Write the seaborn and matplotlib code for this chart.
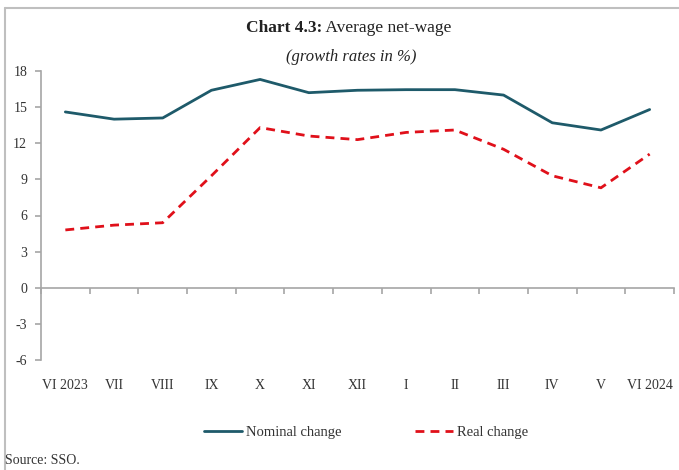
import matplotlib
matplotlib.use("Agg")
import matplotlib.pyplot as plt
from matplotlib.lines import Line2D
from matplotlib.ticker import FixedLocator, NullFormatter
import seaborn as sns
import pandas as pd
import numpy as np

# Monthly labels, June 2023 - June 2024
months = ["VI 2023", "VII", "VIII", "IX", "X", "XI", "XII",
          "I", "II", "III", "IV", "V", "VI 2024"]
# Year-on-year growth of the average net wage, %
nominal = [14.6, 14.0, 14.1, 16.4, 17.3, 16.2, 16.4, 16.45, 16.45, 16.0, 13.7, 13.1, 14.8]
real = [4.8, 5.2, 5.4, 9.3, 13.3, 12.6, 12.3, 12.9, 13.1, 11.5, 9.3, 8.3, 11.1]
series_names = ["Nominal change", "Real change"]
y_ticks = [-6, -3, 0, 3, 6, 9, 12, 15, 18]

sns.set_theme(style="white")
plt.rcParams["font.family"] = ["Liberation Serif", "DejaVu Serif"]

df = pd.DataFrame({
    "month": list(range(len(months))) * 2,
    "value": nominal + real,
    "series": [series_names[0]] * len(months) + [series_names[1]] * len(months),
})

fig = plt.figure(figsize=(6.79, 4.70), dpi=100)
ax = fig.add_axes([41 / 679, 1 - 360 / 470, 633 / 679, 289 / 470])

palette = {series_names[0]: "#1E5A6A", series_names[1]: "#E0101A"}
sns.lineplot(data=df, x="month", y="value", hue="series", style="series",
             palette=palette, dashes={series_names[0]: "", series_names[1]: (3.2, 2.2)},
             linewidth=2.0, ax=ax, legend=False)

grey = "#A6A6A6"
ax.set_xlim(-0.5, len(months) - 0.5)
ax.set_ylim(y_ticks[0], y_ticks[-1])
ax.set_yticks(y_ticks)
ax.set_yticklabels([str(t) for t in y_ticks])
ax.set_xlabel("")
ax.set_ylabel("")

for side in ["top", "right"]:
    ax.spines[side].set_visible(False)
ax.spines["left"].set_color(grey)
ax.spines["left"].set_linewidth(1.2)
ax.spines["bottom"].set_color(grey)
ax.spines["bottom"].set_linewidth(1.2)
ax.spines["bottom"].set_position(("data", 0))

# category boundaries as tick marks, month names at centres
ax.xaxis.set_major_locator(FixedLocator(np.arange(-0.5, len(months), 1.0)))
ax.xaxis.set_major_formatter(NullFormatter())
ax.xaxis.set_minor_locator(FixedLocator(np.arange(len(months))))
ax.set_xticklabels(months, minor=True)
ax.tick_params(axis="x", which="major", direction="out", length=4, width=1.2,
               color=grey, bottom=True)
ax.tick_params(axis="x", which="minor", length=0, pad=66, labelsize=10,
               labelcolor="#333333", bottom=True)
ax.tick_params(axis="y", direction="out", length=4, width=1.2, color=grey,
               left=True, labelsize=10, labelcolor="#333333", pad=6)

# titles: bold lead-in followed by regular text, centred as one line
title_bold = fig.text(0.0, 1 - 28 / 470, "Chart 4.3:", fontsize=12.5,
                      fontweight="bold", color="#222222", va="center")
title_rest = fig.text(0.0, 1 - 28 / 470, " Average net-wage", fontsize=12.5,
                      color="#222222", va="center")
fig.canvas.draw()
r = fig.canvas.get_renderer()
wb = title_bold.get_window_extent(r).width
wr = title_rest.get_window_extent(r).width
x0 = 349 - (wb + wr) / 2
title_bold.set_x(x0 / 679)
title_rest.set_x((x0 + wb) / 679)
fig.text(351 / 679, 1 - 57 / 470, "(growth rates in %)", fontsize=12,
         fontstyle="italic", color="#222222", ha="center", va="center")

# legend
handles = [Line2D([], [], color=palette[series_names[0]], lw=2.0),
           Line2D([], [], color=palette[series_names[1]], lw=2.0, dashes=(3.2, 2.2))]
fig.legend(handles, series_names, loc="center", bbox_to_anchor=(366 / 679, 1 - 432 / 470),
           ncol=2, frameon=False, fontsize=10.5, handlelength=2.6, handletextpad=0.3,
           columnspacing=5.0, labelcolor="#333333")

fig.text(5 / 679, 1 - 461 / 470, "Source: SSO.", fontsize=10, color="#333333",
         ha="left", va="center")

# frame lines along the top and left edge
fig.add_artist(Line2D([5 / 679, 1], [1 - 8 / 470] * 2, color="#BFBFBF", lw=1.5,
                      transform=fig.transFigure))
fig.add_artist(Line2D([5 / 679] * 2, [0, 1 - 8 / 470], color="#BFBFBF", lw=1.5,
                      transform=fig.transFigure))

fig.savefig("out.png", dpi=100)
